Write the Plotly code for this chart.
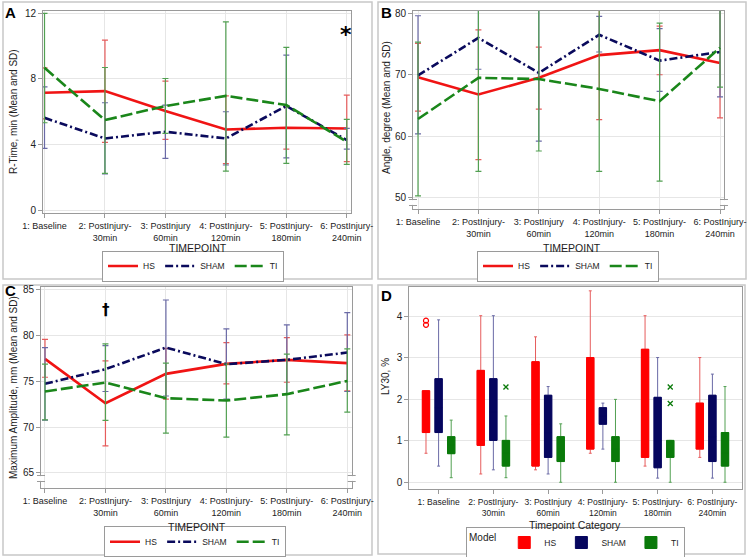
import plotly.graph_objects as go

W, H = 750, 557


def px(x):
    return x / W


def py(y):
    return 1 - y / H


CATS = ["1: Baseline", "2: PostInjury-<br>30min", "3: PostInjury<br>60min",
        "4: PostInjury-<br>120min", "5: PostInjury-<br>180min", "6: PostInjury-<br>240min"]
GROUPS = ["HS", "SHAM", "TI"]

# ---- Panel A: R-Time (mean, upper = mean+SD, lower = mean-SD)
A_HS_MEAN = [7.16, 7.26, 6.04, 4.92, 5.02, 4.98]
A_HS_UP = [8.68, 10.37, 7.87, 6.97, 6.30, 7.02]
A_HS_LO = [5.57, 4.13, 4.31, 2.83, 3.72, 2.95]
A_SHAM_MEAN = [5.63, 4.37, 4.78, 4.37, 6.35, 4.27]
A_SHAM_UP = [7.52, 6.55, 6.41, 6.00, 9.46, 4.98]
A_SHAM_LO = [3.76, 2.20, 3.15, 2.75, 3.19, 3.72]
A_TI_MEAN = [8.68, 5.49, 6.35, 6.97, 6.41, 4.17]
A_TI_UP = [12.00, 8.70, 8.03, 11.49, 9.93, 5.53]
A_TI_LO = [5.33, 2.24, 4.68, 2.38, 2.85, 2.79]

# ---- Panel B: Angle
B_HS_MEAN = [69.6, 66.8, 69.5, 73.2, 74.0, 71.9]
B_HS_UP = [75.1, 77.3, 74.5, 83.8, 77.9, 80.8]
B_HS_LO = [64.1, 56.2, 64.4, 62.7, 70.0, 63.0]
B_SHAM_MEAN = [69.9, 76.0, 70.3, 76.5, 72.3, 73.7]
B_SHAM_UP = [79.6, 81.0, 81.4, 79.5, 77.5, 81.0]
B_SHAM_LO = [60.4, 70.9, 59.2, 73.7, 67.3, 66.4]
B_TI_MEAN = [62.8, 69.5, 69.3, 67.7, 65.7, 74.4]
B_TI_UP = [75.3, 84.8, 81.3, 81.1, 78.4, 80.8]
B_TI_LO = [50.3, 54.3, 57.6, 54.3, 52.7, 68.0]

# ---- Panel C: Maximum Amplitude
C_HS_MEAN = [77.46, 72.61, 75.82, 76.91, 77.35, 76.99]
C_HS_UP = [79.60, 77.24, 78.60, 79.24, 79.79, 80.08]
C_HS_LO = [75.45, 67.95, 73.05, 74.73, 74.90, 73.96]
C_SHAM_MEAN = [74.73, 76.33, 78.70, 76.88, 77.35, 78.15]
C_SHAM_UP = [78.70, 78.92, 83.90, 80.74, 81.17, 82.52]
C_SHAM_LO = [70.76, 73.89, 73.40, 73.05, 73.60, 73.89]
C_TI_MEAN = [73.89, 74.87, 73.16, 72.90, 73.60, 75.05]
C_TI_UP = [76.88, 79.10, 76.99, 76.90, 77.97, 78.55]
C_TI_LO = [70.79, 70.72, 69.33, 68.90, 69.15, 71.63]

# ---- Panel D: LY30 box plots
D_HS_Q1 = [1.20, 0.89, 0.39, 0.80, 0.60, 0.80]
D_HS_MED = [1.60, 1.70, 1.40, 1.60, 1.50, 1.20]
D_HS_Q3 = [2.21, 2.70, 2.91, 3.01, 3.21, 1.91]
D_HS_LOW = [0.70, 0.20, 0.30, 0.70, 0.39, 0.60]
D_HS_HIGH = [2.21, 4.02, 3.51, 4.62, 4.02, 3.01]
D_SHAM_Q1 = [1.20, 1.01, 0.60, 1.40, 0.35, 0.50]
D_SHAM_MED = [1.80, 1.70, 1.20, 1.60, 1.00, 1.10]
D_SHAM_Q3 = [2.50, 2.50, 2.10, 1.80, 2.05, 2.10]
D_SHAM_LOW = [0.39, 0.30, 0.20, 0.80, 0.10, 0.10]
D_SHAM_HIGH = [3.92, 4.02, 2.31, 1.91, 3.01, 2.61]
D_TI_Q1 = [0.69, 0.39, 0.50, 0.50, 0.60, 0.39]
D_TI_MED = [0.90, 0.70, 0.80, 0.80, 0.80, 0.70]
D_TI_Q3 = [1.10, 1.01, 1.10, 1.10, 1.01, 1.20]
D_TI_LOW = [0.11, 0.11, 0.00, 0.00, 0.00, 0.00]
D_TI_HIGH = [1.50, 1.60, 1.41, 2.00, 1.01, 2.31]
D_HS_OUT_CAT = [0, 0]
D_HS_OUT_Y = [3.80, 3.90]
D_TI_OUT_CAT = [1, 4, 4]
D_TI_OUT_Y = [2.30, 2.30, 1.90]

FONT = "Liberation Sans, Arial, sans-serif"
LINE_COL = {"HS": "#F01414", "SHAM": "#0A0A5C", "TI": "#1A861A"}
ERR_COL = {"HS": "#E65C5C", "SHAM": "#6A6AA6", "TI": "#52A052"}
BOX_COL = {"HS": "#FF0000", "SHAM": "#06065E", "TI": "#0A7A0A"}
DASH = {"HS": "solid", "SHAM": "8px,3px,2px,3px", "TI": "12px,4px"}
AXC = "#9a9a9a"
GRIDC = "#e6e6e6"

fig = go.Figure()

panels = [
    ("x", "y", "legend", {"HS": (A_HS_MEAN, A_HS_UP, A_HS_LO),
                          "SHAM": (A_SHAM_MEAN, A_SHAM_UP, A_SHAM_LO),
                          "TI": (A_TI_MEAN, A_TI_UP, A_TI_LO)}),
    ("x2", "y2", "legend2", {"HS": (B_HS_MEAN, B_HS_UP, B_HS_LO),
                             "SHAM": (B_SHAM_MEAN, B_SHAM_UP, B_SHAM_LO),
                             "TI": (B_TI_MEAN, B_TI_UP, B_TI_LO)}),
    ("x3", "y3", "legend3", {"HS": (C_HS_MEAN, C_HS_UP, C_HS_LO),
                             "SHAM": (C_SHAM_MEAN, C_SHAM_UP, C_SHAM_LO),
                             "TI": (C_TI_MEAN, C_TI_UP, C_TI_LO)}),
]
for xa, ya, leg, data in panels:
    for g in GROUPS:
        m, up, lo = data[g]
        fig.add_trace(go.Scatter(
            x=list(range(len(CATS))), y=m, mode="lines", name=g,
            line=dict(color=LINE_COL[g], width=2.6, dash=DASH[g]),
            error_y=dict(type="data", symmetric=False,
                         array=[u - v for u, v in zip(up, m)],
                         arrayminus=[v - l for v, l in zip(m, lo)],
                         color=ERR_COL[g], thickness=1.2, width=3),
            xaxis=xa, yaxis=ya, legend=leg, hoverinfo="skip"))

OFFS = {"HS": -0.23, "SHAM": 0.0, "TI": 0.23}
DBOX = {"HS": (D_HS_Q1, D_HS_MED, D_HS_Q3, D_HS_LOW, D_HS_HIGH),
        "SHAM": (D_SHAM_Q1, D_SHAM_MED, D_SHAM_Q3, D_SHAM_LOW, D_SHAM_HIGH),
        "TI": (D_TI_Q1, D_TI_MED, D_TI_Q3, D_TI_LOW, D_TI_HIGH)}
for g in GROUPS:
    q1, med, q3, lowf, highf = DBOX[g]
    xs = [i + OFFS[g] for i in range(len(CATS))]
    # whiskers
    fig.add_trace(go.Box(x=xs, q1=q1, median=med, q3=q3, lowerfence=lowf, upperfence=highf,
                         width=0.134, whiskerwidth=0.4, fillcolor=BOX_COL[g],
                         line=dict(color=ERR_COL[g], width=1), boxpoints=False,
                         name=g, showlegend=False, xaxis="x4", yaxis="y4", legend="legend4",
                         hoverinfo="skip"))
    # solid box body
    fig.add_trace(go.Box(x=xs, q1=q1, median=med, q3=q3, lowerfence=q1, upperfence=q3,
                         width=0.134, whiskerwidth=0, fillcolor=BOX_COL[g],
                         line=dict(color=BOX_COL[g], width=1), boxpoints=False,
                         name=g, showlegend=True, xaxis="x4", yaxis="y4", legend="legend4",
                         hoverinfo="skip"))

fig.add_trace(go.Scatter(x=[c + OFFS["HS"] for c in D_HS_OUT_CAT], y=D_HS_OUT_Y, mode="markers",
                         marker=dict(symbol="circle-open", size=5, color=BOX_COL["HS"], line=dict(width=1.2)),
                         showlegend=False, xaxis="x4", yaxis="y4", hoverinfo="skip"))
fig.add_trace(go.Scatter(x=[c + OFFS["TI"] for c in D_TI_OUT_CAT], y=D_TI_OUT_Y, mode="markers",
                         marker=dict(symbol="x-thin-open", size=5, color=BOX_COL["TI"], line=dict(width=1.3, color=BOX_COL["TI"])),
                         showlegend=False, xaxis="x4", yaxis="y4", hoverinfo="skip"))


def xaxis(domain, rng, anchor, grid=True, fs=9):
    return dict(domain=domain, range=rng, anchor=anchor, tickmode="array",
                tickvals=list(range(len(CATS))), ticktext=CATS, tickangle=0, automargin=False,
                showline=True, linecolor=AXC, linewidth=1, mirror=True,
                ticks="outside", ticklen=4, tickcolor=AXC,
                showgrid=grid, gridcolor=GRIDC, gridwidth=1, zeroline=False,
                tickfont=dict(size=fs, color="#222", family=FONT))


def yaxis(domain, rng, anchor, tv):
    return dict(domain=domain, range=rng, anchor=anchor, tickmode="array", tickvals=tv,
                automargin=False,
                showline=True, linecolor=AXC, linewidth=1, mirror=True,
                ticks="outside", ticklen=4, tickcolor=AXC,
                showgrid=True, gridcolor=GRIDC, gridwidth=1, zeroline=False,
                tickfont=dict(size=10, color="#222", family=FONT))


dom = {
    "A": ([px(43), px(351)], [py(213), py(11)]),
    "B": ([px(413), px(724)], [py(209), py(11)]),
    "C": ([px(41), px(351.7)], [py(488), py(286.5)]),
    "D": ([px(409.3), px(741.7)], [py(489.3), py(286.7)]),
}

legend_common = dict(orientation="h", xanchor="center", yanchor="middle",
                     bordercolor=AXC, borderwidth=1, bgcolor="white",
                     font=dict(size=8.5, color="#222", family=FONT),
                     itemwidth=30, tracegroupgap=0)

fig.update_layout(
    width=W, height=H, margin=dict(l=0, r=0, t=0, b=0, autoexpand=False),
    paper_bgcolor="white", plot_bgcolor="white",
    font=dict(family=FONT, color="#222"),
    xaxis=xaxis(dom["A"][0], [-0.025, 5.07], "y"),
    yaxis=yaxis(dom["A"][1], [-0.18, 12.15], "x", [0, 4, 8, 12]),
    xaxis2=xaxis(dom["B"][0], [-0.083, 5.066], "y2"),
    yaxis2=yaxis(dom["B"][1], [48.17, 80.37], "x2", [50, 60, 70, 80]),
    xaxis3=xaxis(dom["C"][0], [-0.066, 5.073], "y3"),
    yaxis3=yaxis(dom["C"][1], [63.33, 85.38], "x3", [65, 70, 75, 80, 85]),
    xaxis4=xaxis(dom["D"][0], [-0.535, 5.535], "y4", grid=False, fs=8.5),
    yaxis4=yaxis(dom["D"][1], [-0.17, 4.72], "x4", [0, 1, 2, 3, 4]),
    boxmode="overlay",
    legend=dict(x=px(193), y=py(266), **legend_common),
    legend2=dict(x=px(568), y=py(266), **legend_common),
    legend3=dict(x=px(195), y=py(541.7), **legend_common),
    legend4=dict(x=px(575.5), y=py(542.5), title=dict(text="Model", side="left"), **legend_common),
)

# panel frames
shapes = []
for (x0, y0, x1, y1) in [(3, 2, 372, 279), (378, 2, 746, 279), (3, 285, 372, 555), (378, 285, 745, 554)]:
    shapes.append(dict(type="rect", xref="paper", yref="paper", x0=px(x0), x1=px(x1), y0=py(y1), y1=py(y0),
                       line=dict(color="#c8c8c8", width=1.5), fillcolor="rgba(0,0,0,0)", layer="below"))

# axis breaks for panels B and C
for (xl, xr, ya, yb) in [(413, 724, 199.5, 205.5), (41, 351.7, 475.5, 481.5)]:
    for xx in (xl, xr):
        shapes.append(dict(type="rect", xref="paper", yref="paper", x0=px(xx - 2), x1=px(xx + 2),
                           y0=py(yb - 0.6), y1=py(ya + 0.6), line=dict(width=0), fillcolor="white", layer="above"))
        for yy in (ya, yb):
            shapes.append(dict(type="line", xref="paper", yref="paper", x0=px(xx - 4), x1=px(xx + 4),
                               y0=py(yy), y1=py(yy), line=dict(color=AXC, width=1), layer="above"))
fig.update_layout(shapes=shapes)

ann = []
# panel letters
for t, x, y in [("A", 10, 12), ("B", 386, 12), ("C", 10, 290), ("D", 386, 295)]:
    ann.append(dict(text="<b>%s</b>" % t, x=px(x), y=py(y), xref="paper", yref="paper",
                    showarrow=False, xanchor="center", yanchor="middle",
                    font=dict(size=15, color="black", family="Liberation Sans, Arial, sans-serif")))
# y titles
for t, x, y in [("R-Time, min (Mean and SD)", 13, 112), ("Angle, degree (Mean and SD)", 387, 108),
                ("Maximum Amplitude, mm (Mean and SD)", 13, 388), ("LY30, %", 385, 377)]:
    ann.append(dict(text=t, x=px(x), y=py(y), xref="paper", yref="paper", textangle=-90,
                    showarrow=False, xanchor="center", yanchor="middle",
                    font=dict(size=10, color="#222", family=FONT)))
# x titles
for t, x, y in [("TIMEPOINT", 198, 248), ("TIMEPOINT", 571.7, 248.3), ("TIMEPOINT", 196.7, 526.7),
                ("Timepoint Category", 575, 525)]:
    ann.append(dict(text=t, x=px(x), y=py(y), xref="paper", yref="paper",
                    showarrow=False, xanchor="center", yanchor="middle",
                    font=dict(size=10.5, color="#222", family=FONT)))
# significance marks
ann.append(dict(text="<b>*</b>", x=px(345.7), y=py(34), xref="paper", yref="paper", showarrow=False,
                xanchor="center", yanchor="middle", font=dict(size=22, color="black", family="DejaVu Sans")))
ann.append(dict(text="<b>†</b>", x=px(106), y=py(310), xref="paper", yref="paper", showarrow=False,
                xanchor="center", yanchor="middle", font=dict(size=15, color="black", family="DejaVu Sans")))
fig.update_layout(annotations=ann)

fig.write_html("out.html", config={"displayModeBar": False},
               post_script="document.body.style.margin='0px';document.body.style.overflow='hidden';")
